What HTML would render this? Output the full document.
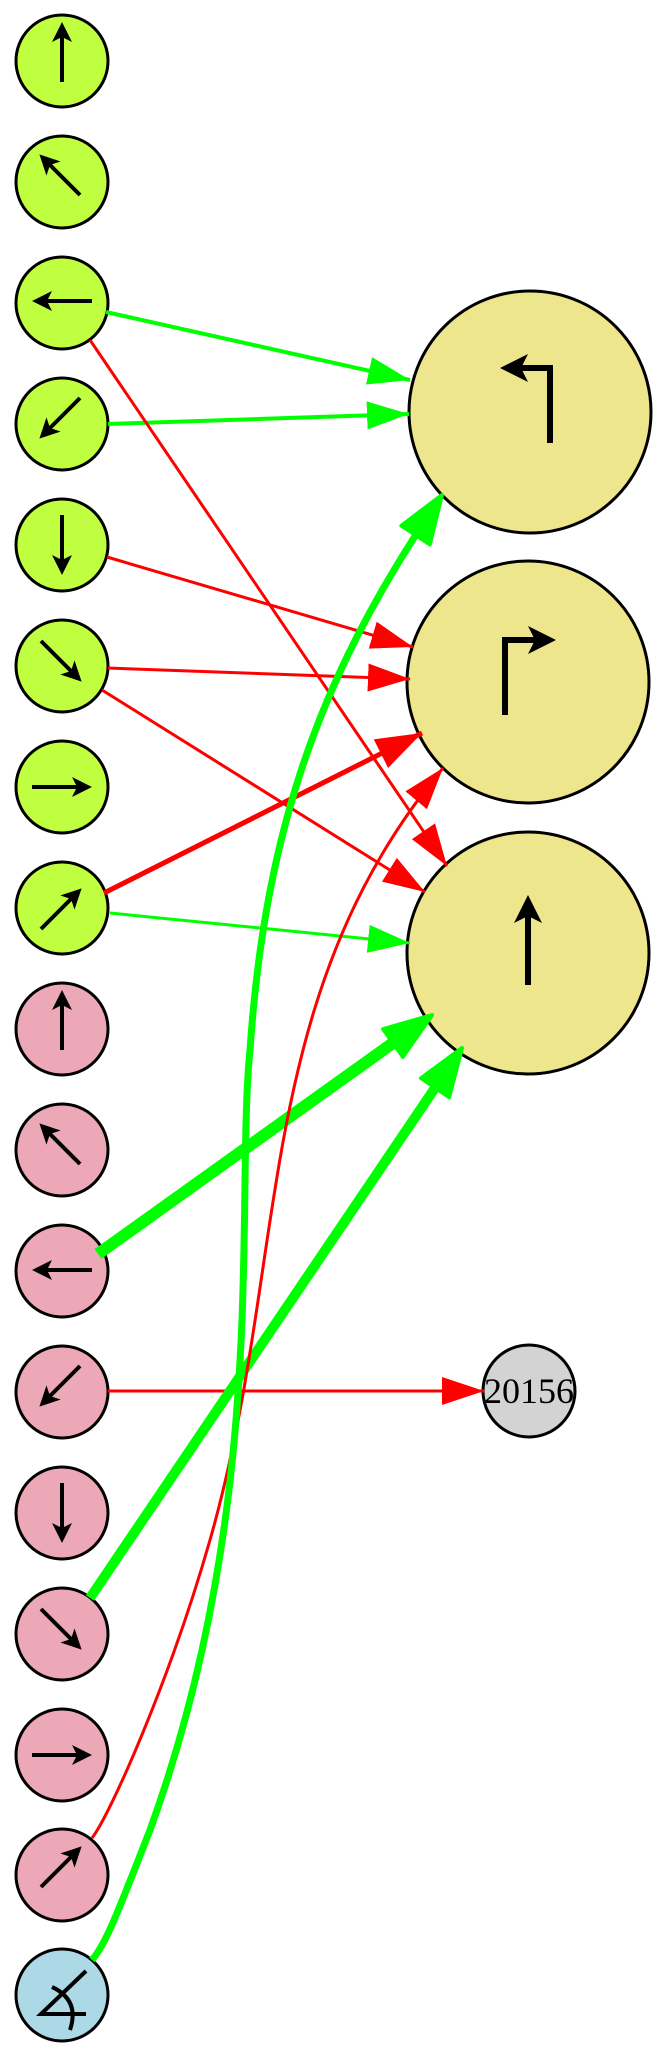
<!DOCTYPE html>
<html><head><meta charset="utf-8"><style>html,body{margin:0;padding:0;background:#fff}svg{display:block}</style></head>
<body>
<svg width="667" height="2058" viewBox="0 0 667 2058" xmlns="http://www.w3.org/2000/svg">
<defs>
<marker id="rt" markerUnits="userSpaceOnUse" markerWidth="46" markerHeight="30" refX="42" refY="15" orient="auto"><path d="M0,1 L42,15 L0,29 z" fill="#f00"/></marker>
<marker id="gt" markerUnits="userSpaceOnUse" markerWidth="46" markerHeight="30" refX="42" refY="15" orient="auto"><path d="M0,1 L42,15 L0,29 z" fill="#0f0"/></marker>
<marker id="rT" markerUnits="userSpaceOnUse" markerWidth="50" markerHeight="34" refX="46" refY="17" orient="auto"><path d="M0,1 L46,17 L0,33 z" fill="#f00"/></marker>
<marker id="gT" markerUnits="userSpaceOnUse" markerWidth="54" markerHeight="40" refX="20" refY="20" orient="auto"><path d="M2,3 L50,20 L2,37 z" fill="#0f0" stroke="#0f0" stroke-width="4" stroke-linejoin="round"/></marker>
<marker id="ah" markerUnits="userSpaceOnUse" markerWidth="24" markerHeight="24" refX="5" refY="10" orient="auto"><path d="M0,0 L20,10 L0,20 L5,10 z" fill="#000"/></marker>
<marker id="AH" markerUnits="userSpaceOnUse" markerWidth="32" markerHeight="32" refX="7" refY="14" orient="auto"><path d="M0,0 L28,14 L0,28 L7,14 z" fill="#000"/></marker>
</defs>

<g stroke="#000" stroke-width="3">
<circle cx="62" cy="61" r="46" fill="#c0ff40"/>
<circle cx="62" cy="182" r="46" fill="#c0ff40"/>
<circle cx="62" cy="303" r="46" fill="#c0ff40"/>
<circle cx="62" cy="424" r="46" fill="#c0ff40"/>
<circle cx="62" cy="545" r="46" fill="#c0ff40"/>
<circle cx="62" cy="666" r="46" fill="#c0ff40"/>
<circle cx="62" cy="787" r="46" fill="#c0ff40"/>
<circle cx="62" cy="908" r="46" fill="#c0ff40"/>
<circle cx="62" cy="1029" r="46" fill="#eda8b8"/>
<circle cx="62" cy="1150" r="46" fill="#eda8b8"/>
<circle cx="62" cy="1271" r="46" fill="#eda8b8"/>
<circle cx="62" cy="1392" r="46" fill="#eda8b8"/>
<circle cx="62" cy="1513" r="46" fill="#eda8b8"/>
<circle cx="62" cy="1634" r="46" fill="#eda8b8"/>
<circle cx="62" cy="1755" r="46" fill="#eda8b8"/>
<circle cx="62" cy="1875" r="46" fill="#eda8b8"/>
<circle cx="62" cy="1995" r="46" fill="#add8e6"/>
<circle cx="530" cy="412" r="121" fill="#eee68c"/>
<circle cx="528" cy="682" r="121" fill="#eee68c"/>
<circle cx="528" cy="953" r="121" fill="#eee68c"/>
<circle cx="529" cy="1391" r="46" fill="#d3d3d3"/>
</g>

<g stroke="#000" stroke-width="4" fill="none" marker-end="url(#ah)">
<line x1="62" y1="82" x2="62" y2="37"/>
<line x1="80" y1="195" x2="50" y2="165"/>
<line x1="92" y1="301" x2="47" y2="301"/>
<line x1="80" y1="398" x2="50" y2="428"/>
<line x1="62" y1="515" x2="62" y2="560"/>
<line x1="41" y1="641" x2="71" y2="671"/>
<line x1="32" y1="787" x2="77" y2="787"/>
<line x1="41" y1="929" x2="71" y2="899"/>
<line x1="62" y1="1050" x2="62" y2="1005"/>
<line x1="80" y1="1164" x2="50" y2="1134"/>
<line x1="92" y1="1270" x2="47" y2="1270"/>
<line x1="80" y1="1366" x2="50" y2="1396"/>
<line x1="62" y1="1483" x2="62" y2="1528"/>
<line x1="41" y1="1609" x2="71" y2="1639"/>
<line x1="32" y1="1755" x2="77" y2="1755"/>
<line x1="41" y1="1887" x2="71" y2="1857"/>
</g>
<g stroke="#000" stroke-width="4" fill="none">
<path d="M86,1971 L41,2014 L86,2014"/>
<path d="M52,1987 Q80,2000 70,2030"/>
</g>
<g stroke="#000" stroke-width="6" fill="none" marker-end="url(#AH)">
<path d="M550,443 L550,368 L521,368"/>
<path d="M505,715 L505,640 L535,640"/>
<line x1="528" y1="985" x2="528" y2="916"/>
</g>
<text x="529" y="1403" font-family="'Liberation Serif',serif" font-size="36" text-anchor="middle" fill="#000">20156</text>

<g fill="none">
<line x1="106" y1="312" x2="410" y2="380" stroke="#0f0" stroke-width="4" marker-end="url(#gt)"/>
<line x1="108" y1="424" x2="409" y2="414" stroke="#0f0" stroke-width="4" marker-end="url(#gt)"/>
<line x1="90" y1="340" x2="447" y2="866" stroke="#f00" stroke-width="3" marker-end="url(#rt)"/>
<line x1="107" y1="557" x2="413" y2="647" stroke="#f00" stroke-width="3" marker-end="url(#rt)"/>
<line x1="108" y1="668" x2="410" y2="679" stroke="#f00" stroke-width="3" marker-end="url(#rt)"/>
<line x1="102" y1="690" x2="425" y2="892" stroke="#f00" stroke-width="3" marker-end="url(#rt)"/>
<line x1="104" y1="893" x2="422" y2="733" stroke="#f00" stroke-width="5" marker-end="url(#rT)"/>
<line x1="110" y1="913" x2="410" y2="943" stroke="#0f0" stroke-width="3" marker-end="url(#gt)"/>
<line x1="98" y1="1254" x2="407.6" y2="1032.5" stroke="#0f0" stroke-width="12" marker-end="url(#gT)"/>
<line x1="108" y1="1391" x2="484" y2="1391" stroke="#f00" stroke-width="3" marker-end="url(#rt)"/>
<line x1="90" y1="1598" x2="445.2" y2="1072.8" stroke="#0f0" stroke-width="10" marker-end="url(#gT)"/>
<path d="M92,1838 C110,1815 170,1680 210,1540 C290,1260 250,1000 443,768" stroke="#f00" stroke-width="3" marker-end="url(#rt)"/>
<path d="M92,1960 C105,1945 115,1920 150,1830 C270,1500 235,1200 250,1050 C265,830 320,680 425.5,520" stroke="#0f0" stroke-width="7" marker-end="url(#gT)"/>
</g>
</svg>
</body></html>
